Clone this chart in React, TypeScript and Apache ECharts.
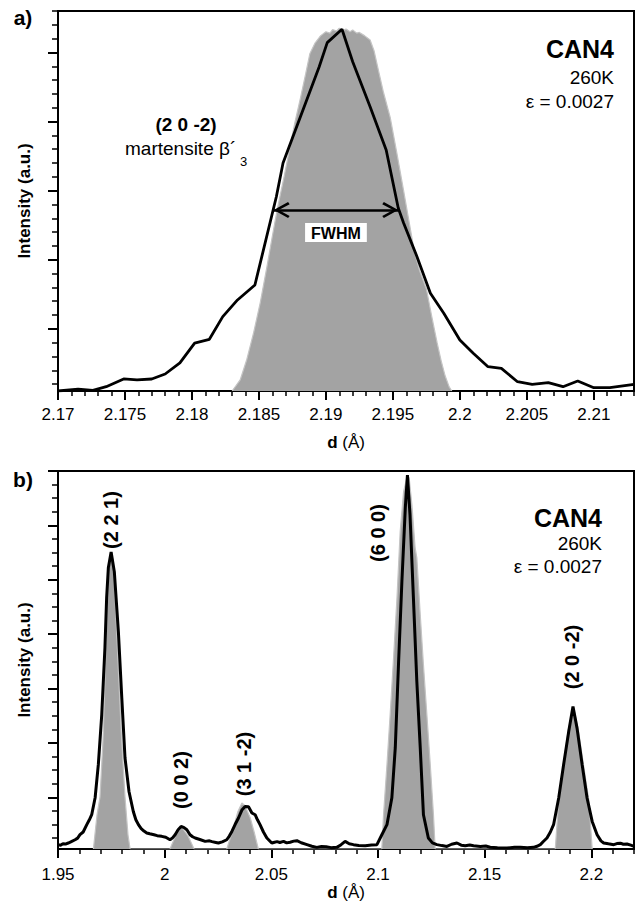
import { useEffect, useRef } from 'react';
import * as echarts from 'echarts';

const FONT = '"Liberation Sans", Arial, Helvetica, sans-serif';

// ---- (a) the (2 0 -2) reflection ----
const peakD = [
  2.17, 2.1715, 2.1726, 2.1736, 2.1749, 2.1759, 2.177, 2.178, 2.1791, 2.1802,
  2.1813, 2.1823, 2.1834, 2.1847, 2.1863, 2.1868, 2.1895, 2.1901, 2.1912, 2.192,
  2.1933, 2.1945, 2.1954, 2.1958, 2.1968, 2.1978, 2.1988, 2.2, 2.201, 2.2021,
  2.2031, 2.2043, 2.2054, 2.2066, 2.2077, 2.2088, 2.21, 2.2112, 2.213,
];
const peakMeasured = [
  0, 14, 5, 31, 87, 80, 87, 123, 203, 347,
  374, 538, 659, 767, 1406, 1650, 2347, 2521, 2618, 2383,
  2057, 1744, 1324, 1216, 972, 707, 562, 369, 273, 176,
  164, 67, 48, 60, 31, 72, 24, 24, 48,
];
const peakSimD = [
  2.183, 2.1836, 2.1841, 2.1846, 2.1851, 2.1856, 2.186, 2.1864, 2.1869, 2.1873,
  2.1877, 2.1881, 2.1885, 2.1888, 2.1892, 2.1896, 2.19, 2.1903, 2.1905, 2.1908,
  2.191, 2.1913, 2.1915, 2.1918, 2.192, 2.1923, 2.1925, 2.1929, 2.1933, 2.1936,
  2.1939, 2.1943, 2.1948, 2.1953, 2.1958, 2.1962, 2.1966, 2.197, 2.1975, 2.1979,
  2.1983, 2.1986, 2.1989, 2.1992, 2.1994,
];
const peakSim = [
  0, 80, 230, 420, 640, 900, 1120, 1330, 1560, 1760,
  1950, 2120, 2300, 2440, 2520, 2570, 2600, 2590, 2615, 2605,
  2625, 2610, 2620, 2600, 2612, 2590, 2595, 2570, 2540, 2460,
  2330, 2160, 1980, 1720, 1450, 1230, 1010, 870, 740, 540,
  350, 220, 110, 30, 0,
];
// half maximum and the two d values where the measured profile crosses it
const halfMax = 1309;
const fwhmEnds = [2.1861, 2.1954];

// ---- (b) the whole pattern ----
const patternD = [
  1.95, 1.9512, 1.9523, 1.9535, 1.9548, 1.956, 1.958, 1.9592, 1.9603, 1.9618,
  1.9635, 1.9647, 1.9658, 1.9674, 1.9689, 1.9705, 1.972, 1.9728, 1.9736, 1.9749,
  1.9764, 1.9783, 1.9799, 1.9814, 1.9833, 1.9853, 1.9865, 1.9877, 1.989, 1.9903,
  1.9916, 1.993, 1.995, 1.9965, 1.9986, 2.0005, 2.0025, 2.0037, 2.0049, 2.0063,
  2.0077, 2.0091, 2.0104, 2.0119, 2.0131, 2.0143, 2.0165, 2.019, 2.021, 2.0222,
  2.024, 2.0252, 2.027, 2.0291, 2.0303, 2.0315, 2.033, 2.0346, 2.0363, 2.0377,
  2.0393, 2.0409, 2.0424, 2.0435, 2.0447, 2.0463, 2.0479, 2.0502, 2.0515, 2.0527,
  2.054, 2.0557, 2.0572, 2.0588, 2.0605, 2.062, 2.064, 2.0667, 2.069, 2.0713,
  2.0735, 2.0757, 2.078, 2.0807, 2.0827, 2.0846, 2.0865, 2.0885, 2.091, 2.094,
  2.097, 2.0995, 2.1018, 2.1042, 2.1065, 2.1081, 2.1096, 2.1112, 2.1128, 2.1138,
  2.115, 2.1166, 2.1182, 2.1198, 2.1213, 2.1236, 2.1255, 2.1276, 2.13, 2.1323,
  2.1345, 2.137, 2.139, 2.1409, 2.143, 2.1448, 2.148, 2.1505, 2.1526, 2.156,
  2.1605, 2.164, 2.1667, 2.17, 2.1729, 2.1745, 2.1761, 2.1775, 2.1792, 2.1808,
  2.1823, 2.1847, 2.187, 2.1894, 2.1914, 2.1933, 2.1957, 2.198, 2.2004, 2.2027,
  2.2045, 2.2058, 2.208, 2.2105, 2.212, 2.2136, 2.215, 2.2167, 2.2185, 2.22,
];
const patternMeasured = [
  32, 28, 39, 36, 44, 52, 68, 80, 105, 125,
  179, 215, 252, 377, 620, 987, 1480, 1847, 2068, 2185,
  2040, 1599, 1112, 671, 421, 276, 215, 179, 150, 132,
  118, 112, 105, 98, 93, 86, 68, 82, 105, 142,
  166, 157, 142, 105, 90, 81, 70, 56, 60, 54,
  48, 44, 52, 68, 95, 129, 180, 228, 289, 313,
  311, 265, 252, 215, 179, 125, 81, 44, 50, 54,
  48, 56, 45, 50, 58, 61, 46, 32, 20, 12,
  18, 17, 10, 12, 32, 56, 39, 32, 26, 24,
  30, 32, 105, 179, 377, 745, 1354, 1967, 2508, 2750,
  2457, 1847, 1232, 745, 252, 81, 45, 32, 25, 19,
  35, 44, 28, 24, 30, 24, 18, 22, 13, 10,
  7, 12, 13, 9, 12, 20, 32, 55, 81, 125,
  179, 375, 620, 864, 1048, 889, 620, 375, 203, 105,
  60, 44, 38, 32, 40, 43, 35, 37, 28, 19,
];
const simD = [
  1.9666, 1.9683, 1.9697, 1.9711, 1.972, 1.973, 1.9739, 1.9749, 1.9758, 1.9767,
  1.9781, 1.9796, 1.9814, 1.9828, 1.9838,
  2.0025, 2.0053, 2.008, 2.0109, 2.0138,
  2.0291, 2.032, 2.0343, 2.0362, 2.0377, 2.0401, 2.0419, 2.0439,
  2.1018, 2.1026, 2.1042, 2.1057, 2.1073, 2.1089, 2.1104, 2.112, 2.1138, 2.1146,
  2.1159, 2.1174, 2.1182, 2.1198, 2.1213, 2.1229, 2.1245, 2.126, 2.1268,
  2.1831, 2.1847, 2.1869, 2.1892, 2.1917, 2.1939, 2.1963, 2.1988, 2.2004,
];
const simIntensity = [
  0, 252, 384, 803, 1242, 1757, 2065, 2182, 2124, 1867,
  1389, 874, 384, 105, 0,
  0, 105, 160, 98, 0,
  0, 142, 274, 338, 318, 230, 127, 0,
  0, 252, 620, 989, 1406, 1847, 2334, 2628, 2750, 2729,
  2530, 2214, 2141, 1722, 1355, 989, 620, 252, 0,
  0, 362, 620, 878, 1038, 878, 620, 362, 0,
];

// axis ticks
const topXTicks = [2.17, 2.175, 2.18, 2.185, 2.19, 2.195, 2.2, 2.205, 2.21];
const bottomXTicks = [1.95, 2, 2.05, 2.1, 2.15, 2.2];
const topYMajor = [450, 950, 1450, 1950, 2450];
const bottomYMajor = [380, 780, 1180, 1580, 1980, 2380, 2780];

const range = (start: number, step: number, count: number, digits: number) =>
  Array.from({ length: count }, (_, i) => +(start + i * step).toFixed(digits));

const topXMinor = range(2.17, 0.001, 44, 3);
const bottomXMinor = range(1.95, 0.01, 28, 2);
const topYMinor = range(50, 100, 28, 0);
const bottomYMinor = range(80, 100, 28, 0);

const pairs = (xs: number[], ys: number[]) => xs.map((x, i) => [x, ys[i]]);

const BLACK = '#000';
const GRAY = '#a3a3a3';

// open chevron used as arrow head on the FWHM marker
const CHEVRON = 'path://M5,0 L10,9 L8.6,10 L5,3.2 L1.4,10 L0,9 Z';
const CHEVRON_SIZE = [16, 16];

function mainX(grid: number, min: number, max: number, ticks: number[], nameGap: number, margin: number) {
  return {
    type: 'value', gridIndex: grid, min, max, position: 'bottom',
    name: '{b|d} (Å)', nameLocation: 'middle', nameGap,
    nameTextStyle: {
      fontSize: 17, color: BLACK, fontFamily: FONT,
      rich: { b: { fontSize: 17, fontWeight: 'bold', color: BLACK, fontFamily: FONT } },
    },
    axisLine: { show: true, onZero: false, lineStyle: { color: BLACK, width: 2 } },
    axisTick: { show: true, customValues: ticks, length: 9, lineStyle: { color: BLACK, width: 2 } },
    axisLabel: {
      show: true, customValues: ticks, fontSize: 17, color: BLACK, fontFamily: FONT, margin,
      formatter: (v: number) => String(+v.toFixed(3)),
    },
    splitLine: { show: false },
  };
}

function minorX(grid: number, min: number, max: number, ticks: number[]) {
  return {
    type: 'value', gridIndex: grid, min, max, position: 'bottom',
    axisLine: { show: false, onZero: false },
    axisTick: { show: true, customValues: ticks, length: 5, lineStyle: { color: BLACK, width: 1.5 } },
    axisLabel: { show: false },
    splitLine: { show: false },
  };
}

function mainY(grid: number, max: number, ticks: number[]) {
  return {
    type: 'value', gridIndex: grid, min: 0, max, position: 'left',
    name: 'Intensity (a.u.)', nameLocation: 'middle', nameGap: 25, nameRotate: 90,
    nameTextStyle: { fontSize: 17, fontWeight: 'bold', color: BLACK, fontFamily: FONT },
    axisLine: { show: true, onZero: false, lineStyle: { color: BLACK, width: 2 } },
    axisTick: { show: true, customValues: ticks, length: 10, lineStyle: { color: BLACK, width: 2 } },
    axisLabel: { show: false, customValues: ticks },
    splitLine: { show: false },
  };
}

function minorY(grid: number, max: number, ticks: number[]) {
  return {
    type: 'value', gridIndex: grid, min: 0, max, position: 'left',
    axisLine: { show: false, onZero: false },
    axisTick: { show: true, customValues: ticks, length: 6, lineStyle: { color: BLACK, width: 1.5 } },
    axisLabel: { show: false },
    splitLine: { show: false },
  };
}

function text(
  x: number, y: number, str: string, size: number,
  opts: { bold?: boolean; align?: string; rotate?: boolean } = {},
) {
  const align = opts.align || 'center';
  return {
    type: 'text', x, y, rotation: opts.rotate ? Math.PI / 2 : 0, z: 20,
    style: {
      text: str, fill: BLACK, fontSize: size, fontFamily: FONT,
      fontWeight: opts.bold ? 'bold' : 'normal',
      align, verticalAlign: 'middle', textAlign: align, textVerticalAlign: 'middle',
    },
  };
}

export default function App() {
  const ref = useRef<HTMLDivElement>(null);

  useEffect(() => {
    if (!ref.current) return;
    const chart = echarts.init(ref.current, null, { renderer: 'svg' });
    chart.setOption({
      animation: false,
      backgroundColor: '#fff',
      grid: [
        { left: 58, top: 11, width: 576, height: 380, show: true, borderColor: BLACK, borderWidth: 2 },
        { left: 58, top: 471, width: 576, height: 378, show: true, borderColor: BLACK, borderWidth: 2 },
      ],
      xAxis: [
        mainX(0, 2.17, 2.213, topXTicks, 43, 15),
        minorX(0, 2.17, 2.213, topXMinor),
        mainX(1, 1.95, 2.22, bottomXTicks, 35, 17),
        minorX(1, 1.95, 2.22, bottomXMinor),
      ],
      yAxis: [
        mainY(0, 2750, topYMajor),
        minorY(0, 2750, topYMinor),
        mainY(1, 2780, bottomYMajor),
        minorY(1, 2780, bottomYMinor),
      ],
      series: [
        {
          type: 'line', xAxisIndex: 0, yAxisIndex: 0, data: pairs(peakSimD, peakSim),
          showSymbol: false, z: 1,
          lineStyle: { width: 1.2, color: '#c4c4c4' },
          areaStyle: { color: GRAY, opacity: 1 },
        },
        {
          type: 'line', xAxisIndex: 0, yAxisIndex: 0, data: pairs(peakD, peakMeasured),
          showSymbol: false, z: 3,
          lineStyle: { width: 2.8, color: BLACK },
          markLine: {
            silent: true,
            symbol: [CHEVRON, CHEVRON],
            symbolSize: CHEVRON_SIZE,
            // shift each head so its tip, not its centre, sits on the end point
            symbolOffset: [[0, CHEVRON_SIZE[1] / 2], [0, CHEVRON_SIZE[1] / 2]],
            lineStyle: { color: BLACK, width: 2.5, type: 'solid' },
            label: {
              show: true, position: 'insideMiddleBottom', formatter: 'FWHM', distance: 13,
              fontSize: 16, fontWeight: 'bold', color: BLACK, fontFamily: FONT,
              backgroundColor: '#fff', padding: [2, 6, 1, 6],
            },
            emphasis: { disabled: true },
            data: [[{ coord: [fwhmEnds[0], halfMax] }, { coord: [fwhmEnds[1], halfMax] }]],
          },
        },
        {
          type: 'line', xAxisIndex: 2, yAxisIndex: 2, data: pairs(simD, simIntensity),
          showSymbol: false, z: 1,
          lineStyle: { width: 1.2, color: '#c4c4c4' },
          areaStyle: { color: GRAY, opacity: 1 },
        },
        {
          type: 'line', xAxisIndex: 2, yAxisIndex: 2, data: pairs(patternD, patternMeasured),
          showSymbol: false, z: 3,
          lineStyle: { width: 3, color: BLACK },
        },
      ],
      graphic: [
        text(23, 17, 'a)', 21, { bold: true }),
        text(614, 49, 'CAN4', 25, { bold: true, align: 'right' }),
        text(614, 77, '260K', 19, { align: 'right' }),
        text(614, 101, 'ε = 0.0027', 19, { align: 'right' }),
        text(186, 124, '(2 0 -2)', 19, { bold: true }),
        text(125, 148, 'martensite β´', 19, { align: 'left' }),
        text(240, 161, '3', 13, { align: 'left' }),

        text(23, 479, 'b)', 21, { bold: true }),
        text(602, 518, 'CAN4', 25, { bold: true, align: 'right' }),
        text(602, 543, '260K', 19, { align: 'right' }),
        text(602, 566, 'ε = 0.0027', 19, { align: 'right' }),
        text(111, 520, '(2 2 1)', 20, { bold: true, rotate: true }),
        text(181, 780, '(0 0 2)', 20, { bold: true, rotate: true }),
        text(244, 764, '(3 1 -2)', 20, { bold: true, rotate: true }),
        text(378, 533, '(6 0 0)', 20, { bold: true, rotate: true }),
        text(572, 657, '(2 0 -2)', 20, { bold: true, rotate: true }),
      ],
    });
    return () => chart.dispose();
  }, []);

  return (
    <div
      ref={ref}
      style={{ position: 'absolute', left: 0, top: 0, width: 638, height: 912, background: '#fff' }}
    />
  );
}
